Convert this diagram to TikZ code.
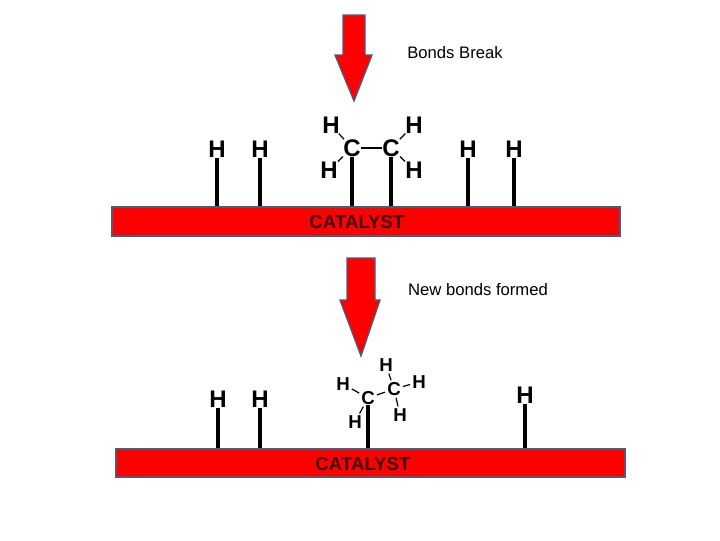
\documentclass[tikz,border=0pt]{standalone}
\usepackage{fontspec}
\setmainfont{Liberation Sans}
\begin{document}
\begin{tikzpicture}[x=0.75pt,y=-0.75pt,
  bar/.style={fill=red,draw={rgb,255:red,80;green,90;blue,120},line width=1.5pt},
  bigatom/.style={font=\bfseries\fontsize{18}{18}\selectfont,inner sep=0pt},
  atom/.style={font=\bfseries\fontsize{14}{14}\selectfont,inner sep=0pt},
  stick/.style={line width=3pt},
  bond/.style={line width=0.9pt,shorten <=1.5pt,shorten >=1.5pt},
  tbond/.style={line width=0.9pt},
  arr/.style={fill=red,draw={rgb,255:red,80;green,90;blue,120},line width=1pt},
  lbl/.style={font=\fontsize{12.5}{12.5}\selectfont,inner sep=0pt},
  cat/.style={font=\bfseries\fontsize{14}{14}\selectfont,text={rgb,255:red,60;green,0;blue,0},inner sep=0pt}]
\useasboundingbox (0,0) rectangle (720,540);
% arrows
\draw[arr] (343,15)--(365,15)--(365,55)--(372,55)--(354,101)--(335,55)--(343,55)--cycle;
\draw[arr] (347,258)--(375,258)--(375,300)--(380,300)--(361,356)--(340,300)--(347,300)--cycle;
\node[lbl] (t1) at (455,53) {Bonds Break};
\node[lbl] (t2) at (478,290) {New bonds formed};
% top
\node[bar,minimum width=508*0.75pt,minimum height=29*0.75pt,inner sep=0pt] (bar1) at (366,221.5) {};
\node[cat] (c1lab) at (357,222) {CATALYST};
\foreach \n/\x in {a/217,b/260,c/468,d/514}{
  \node[bigatom] (h\n) at (\x,149) {H};
  \coordinate (s\n) at (\x,206);
  \draw[stick] (h\n.south) -- (s\n);
}
\node[bigatom] (C1) at (352,148) {C};
\node[bigatom] (C2) at (391,148) {C};
\node[bigatom] (H1) at (331,125) {H};
\node[bigatom] (H2) at (329,170) {H};
\node[bigatom] (H3) at (414,125) {H};
\node[bigatom] (H4) at (414,170) {H};
\draw[tbond] (C1)--(C2); \draw[tbond] (C1)--(H1); \draw[tbond] (C1)--(H2);
\draw[tbond] (C2)--(H3); \draw[tbond] (C2)--(H4);
\coordinate (sC1) at (352,206); \coordinate (sC2) at (391,206);
\draw[stick] (C1.south)--(sC1); \draw[stick] (C2.south)--(sC2);
% bottom
\node[bar,minimum width=509*0.75pt,minimum height=28*0.75pt,inner sep=0pt] (bar2) at (370.5,463) {};
\node[cat] (c2lab) at (363,464) {CATALYST};
\foreach \n/\x/\y in {e/218/399,f/260/399,g/525/395}{
  \node[bigatom] (h\n) at (\x,\y) {H};
  \coordinate (s\n) at (\x,448);
  \draw[stick] (h\n.south) -- (s\n);
}
\node[atom] (D1) at (368,398) {C};
\node[atom] (D2) at (394,389) {C};
\node[atom] (G1) at (386,365) {H};
\node[atom] (G2) at (343,384) {H};
\node[atom] (G3) at (419,382) {H};
\node[atom] (G4) at (355,422) {H};
\node[atom] (G5) at (400,415) {H};
\draw[bond] (D1)--(D2); \draw[bond] (D1)--(G2); \draw[bond] (D1)--(G4);
\draw[bond] (D2)--(G1); \draw[bond] (D2)--(G3); \draw[bond] (D2)--(G5);
\coordinate (sD1) at (368,448);
\draw[stick] (D1.south)--(sD1);
\end{tikzpicture}
\end{document}
